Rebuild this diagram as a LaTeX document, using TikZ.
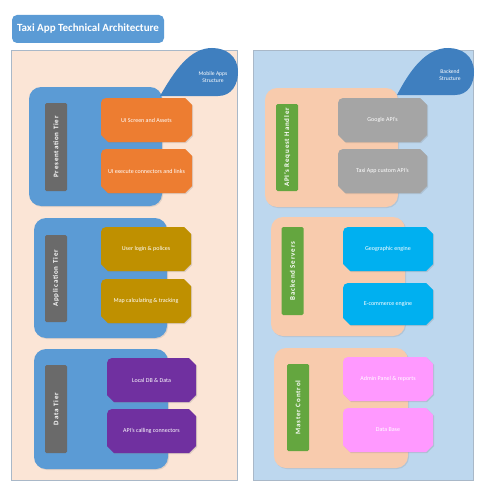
\documentclass[tikz,border=0pt]{standalone}
\usepackage{fontspec}
\setmainfont{Carlito}
\usetikzlibrary{shadows}
\definecolor{titleblue}{HTML}{5B9BD5}
\definecolor{panelpeach}{HTML}{FBE5D6}
\definecolor{panelblue}{HTML}{BDD7EE}
\definecolor{panelborder}{HTML}{A9B8C8}
\definecolor{contblue}{HTML}{5B9BD5}
\definecolor{contpeach}{HTML}{F8CBAD}
\definecolor{bargray}{HTML}{6A6A6A}
\definecolor{bargreen}{HTML}{64A63F}
\definecolor{blobblue}{HTML}{3F7FBF}
\definecolor{cOrange}{HTML}{ED7D31}
\definecolor{cGold}{HTML}{BF9000}
\definecolor{cPurple}{HTML}{7030A0}
\definecolor{cGray}{HTML}{A5A5A5}
\definecolor{cCyan}{HTML}{00B0F0}
\definecolor{cPink}{HTML}{FF99FF}
\tikzset{
  panel/.style={draw=panelborder, line width=0.8pt},
  container/.style={rounded corners=12pt, drop shadow={opacity=0.2, shadow xshift=1pt, shadow yshift=-1pt}},
  barbox/.style={rotate=90, minimum height=22pt, inner sep=0pt, text=white,
    font=\fontsize{7}{8}\selectfont\bfseries\addfontfeatures{LetterSpace=12}, rounded corners=1.5pt},
  boxtext/.style={text=white, font=\fontsize{6}{7}\selectfont, inner sep=0pt},
  blobtext/.style={text=white, font=\fontsize{5.6}{7.5}\selectfont, align=center, inner sep=0pt},
  boxshadow/.style={drop shadow={opacity=0.25, shadow xshift=1pt, shadow yshift=-1pt}}
}
% \abox{name}{x1}{y1}{x2}{y2}{colour}{text}
\newcommand\abox[7]{%
  \fill[#6, boxshadow] ({#2},{#3+5}) arc[start angle=180, end angle=90, radius=5pt]
    -- ({#4-7},{#3}) -- ({#4},{#3+7}) -- ({#4},{#5-7}) -- ({#4-7},{#5})
    -- ({#2+7},{#5}) -- ({#2},{#5-7}) -- cycle;
  \node[boxtext] (#1) at ({(#2+#4)/2},{(#3+#5)/2}) {#7};}
\begin{document}
\begin{tikzpicture}[x=1pt, y=-1pt]
\useasboundingbox (0,0) rectangle (495,495);
\fill[white] (0,0) rectangle (495,495);
% title
\fill[titleblue, rounded corners=5pt] (12,15) rectangle (164,43);
\node[text=white, font=\fontsize{11}{13}\selectfont\bfseries] (title) at (88,29) {Taxi App Technical Architecture};
% panels
\filldraw[panel, fill=panelpeach] (11,50) rectangle (237,480);
\filldraw[panel, fill=panelblue] (253,50) rectangle (473,480);
% containers
\fill[contblue, container] (29,87) rectangle (162,206);
\fill[contblue, container] (34,218) rectangle (167,338);
\fill[contblue, container] (34,349) rectangle (168,469);
\fill[contpeach, container] (265,88) rectangle (398,207);
\fill[contpeach, container] (271,217) rectangle (405,336);
\fill[contpeach, container] (274,348) rectangle (408,468);
% blobs
\fill[blobblue] (160,96) -- (218,96) .. controls (232,96) and (238,84) .. (238,72)
  .. controls (238,56) and (226,48) .. (212,48) .. controls (190,48) and (175,70) .. (160,96);
\node[blobtext] (mobile) at (213,77) {Mobile Apps\\Structure};
\fill[blobblue] (397,95) -- (455,95) .. controls (468,95) and (474,84) .. (474,72)
  .. controls (474,56) and (462,48) .. (448,48) .. controls (426,48) and (410,70) .. (397,95);
\node[blobtext] (backend) at (450,75) {Backend\\Structure};
% bars
\node[barbox, fill=bargray, minimum width=88pt] (pres) at (56,147) {Presentation Tier};
\node[barbox, fill=bargray, minimum width=87pt] (appl) at (56,278.5) {Application Tier};
\node[barbox, fill=bargray, minimum width=88pt] (data) at (56,409) {Data Tier};
\node[barbox, fill=bargreen, minimum width=87pt] (apih) at (287,147.5) {API's Request Handler};
\node[barbox, fill=bargreen, minimum width=88pt] (bsrv) at (292.5,271) {Backend Servers};
\node[barbox, fill=bargreen, minimum width=87pt] (mctl) at (298,407.5) {Master Control};
% boxes
\abox{uiscreen}{101}{98}{192}{142}{cOrange}{UI Screen and Assets}
\abox{uiexec}{101}{149}{192}{193}{cOrange}{UI execute connectors and links}
\abox{login}{101}{227}{191}{271}{cGold}{User login \& polices}
\abox{map}{101}{279}{191}{323}{cGold}{Map calculating \& tracking}
\abox{localdb}{107}{358}{196}{402}{cPurple}{Local DB \& Data}
\abox{apicall}{107}{409}{196}{453}{cPurple}{API's calling connectors}
\abox{google}{338}{98}{427}{142}{cGray}{Google API's}
\abox{taxiapi}{338}{149}{427}{193}{cGray}{Taxi App custom API's}
\abox{geo}{343}{227}{433}{271}{cCyan}{Geographic engine}
\abox{ecom}{343}{283}{433}{325}{cCyan}{E-commerce engine}
\abox{admin}{343}{357}{433}{401}{cPink}{Admin Panel \& reports}
\abox{dbase}{343}{408}{433}{452}{cPink}{Data Base}
\end{tikzpicture}
\end{document}
